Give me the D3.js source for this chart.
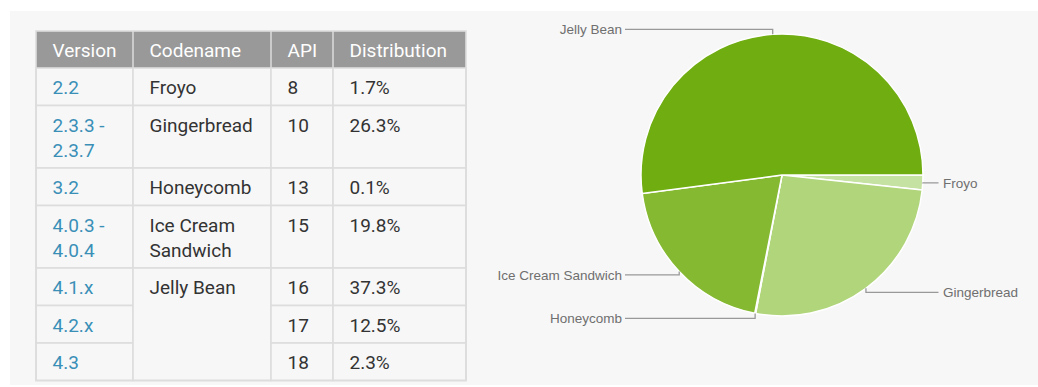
<!DOCTYPE html>
<html>
<head>
<meta charset="utf-8">
<script src="https://cdn.jsdelivr.net/npm/d3@7"></script>
<style>
  html, body { margin: 0; padding: 0; background: #ffffff; }
  svg { display: block; }
</style>
</head>
<body>
<svg id="chart" width="1038" height="387"></svg>
<script>
// ---------- data ----------
const headers = ["Version", "Codename", "API", "Distribution"];
const versions = ["2.2", "2.3.3 -\n2.3.7", "3.2", "4.0.3 -\n4.0.4", "4.1.x", "4.2.x", "4.3"];
const codenames = ["Froyo", "Gingerbread", "Honeycomb", "Ice Cream\nSandwich", "Jelly Bean", "Jelly Bean", "Jelly Bean"];
const apiLevels = ["8", "10", "13", "15", "16", "17", "18"];
const distribution = [1.7, 26.3, 0.1, 19.8, 37.3, 12.5, 2.3];
const sliceColors = ["#c6e2a3", "#b0d57b", "#9cc95a", "#85b931", "#70ad10"];

// ---------- layout ----------
const svg = d3.select("#chart");
svg.append("rect").attr("x", 10).attr("y", 11).attr("width", 1028).attr("height", 374).attr("fill", "#f7f7f7");

const tableLeft = 36, tableTop = 31, headerH = 37, lineH = 25, rowPad = 12.5;
const colEdges = [36, 133, 271, 333, 466];
const textPad = 16.5;
const bodyFont = "Roboto, 'Open Sans', Arial, sans-serif";
const bodySize = 19;

const nLines = versions.map((v, i) => Math.max(v.split("\n").length, codenames[i].split("\n").length));
const rowH = nLines.map(n => rowPad + lineH * n);
const rowTops = [0, ...d3.cumsum(rowH)].map(v => v + tableTop + headerH);
const tableBottom = rowTops[rowTops.length - 1];

const t = svg.append("g");

// header
t.append("rect").attr("x", colEdges[0]).attr("y", tableTop)
  .attr("width", colEdges[4] - colEdges[0]).attr("height", headerH).attr("fill", "#999999");
headers.forEach((h, c) => {
  t.append("text").attr("x", colEdges[c] + textPad).attr("y", tableTop + 25.5)
    .attr("font-family", bodyFont).attr("font-size", bodySize).attr("fill", "#ffffff").text(h);
});

// body cells (codename column merges identical consecutive rows)
const columns = [versions, codenames, apiLevels, distribution.map(d => d + "%")];
columns.forEach((col, c) => {
  let r = 0;
  while (r < col.length) {
    let span = 1;
    if (c === 1) while (r + span < col.length && col[r + span] === col[r]) span++;
    const y0 = rowTops[r], y1 = rowTops[r + span];
    t.append("rect").attr("x", colEdges[c]).attr("y", y0)
      .attr("width", colEdges[c + 1] - colEdges[c]).attr("height", y1 - y0)
      .attr("fill", "#f7f7f7").attr("stroke", "#dddddd").attr("stroke-width", 1.6);
    const lines = String(col[r]).split("\n");
    lines.forEach((ln, k) => {
      t.append("text").attr("x", colEdges[c] + textPad).attr("y", y0 + 26 + k * lineH)
        .attr("font-family", bodyFont).attr("font-size", bodySize)
        .attr("fill", c === 0 ? "#3a8fb7" : "#333333").text(ln);
    });
    r += span;
  }
});
// header separators
colEdges.slice(1, 4).forEach(x => {
  t.append("line").attr("x1", x).attr("x2", x).attr("y1", tableTop).attr("y2", tableTop + headerH)
    .attr("stroke", "#d8d8d8").attr("stroke-width", 1.6);
});
t.append("rect").attr("x", colEdges[0]).attr("y", tableTop)
  .attr("width", colEdges[4] - colEdges[0]).attr("height", tableBottom - tableTop)
  .attr("fill", "none").attr("stroke", "#dddddd").attr("stroke-width", 1.6);

// ---------- pie ----------
const groups = d3.rollups(codenames.map((c, i) => ({ c, v: distribution[i] })), v => d3.sum(v, d => d.v), d => d.c);
const pieData = groups.map(([name, value]) => ({ name: name.replace("\n", " "), value }));

const cx = 782, cy = 175, R = 141;
const pie = d3.pie().value(d => d.value).sort(null).startAngle(Math.PI / 2).endAngle(Math.PI / 2 + 2 * Math.PI);
const arc = d3.arc().innerRadius(0).outerRadius(R);
const color = d3.scaleOrdinal().domain(pieData.map(d => d.name)).range(sliceColors);
const arcs = pie(pieData);

const pg = svg.append("g").attr("transform", `translate(${cx},${cy})`);
pg.selectAll("path.slice").data(arcs).join("path").attr("class", "slice")
  .attr("d", arc).attr("fill", d => color(d.data.name))
  .attr("stroke", "#ffffff").attr("stroke-width", 1.5).attr("stroke-linejoin", "round");

const labelFont = "'Liberation Sans', Arial, sans-serif";
arcs.forEach(d => {
  const mid = (d.startAngle + d.endAngle) / 2;
  const ex = R * Math.sin(mid), ey = -R * Math.cos(mid);
  const ly = ey - 5 * Math.cos(mid);
  const right = Math.sin(mid) >= 0;
  const endX = right ? R + 15.5 : -R - 16;
  pg.append("path").attr("d", `M${ex},${ey}V${ly}H${endX}`)
    .attr("fill", "none").attr("stroke", "#999999").attr("stroke-width", 1.3);
  pg.append("text").attr("x", right ? endX + 4.5 : endX - 3).attr("y", ly)
    .attr("dy", "0.35em").attr("text-anchor", right ? "start" : "end")
    .attr("font-family", labelFont).attr("font-size", 13.5).attr("fill", "#6f6f6f")
    .text(d.data.name);
});
</script>
</body>
</html>
